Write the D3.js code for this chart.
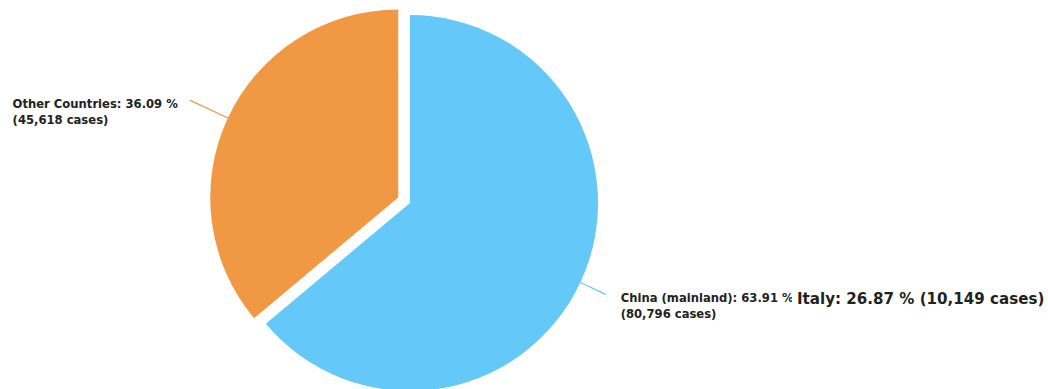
<!DOCTYPE html>
<html>
<head>
<meta charset="utf-8">
<script src="https://cdn.jsdelivr.net/npm/d3@7"></script>
<style>
  body { margin: 0; background: #fff; }
  svg { display: block; }
  .oznaka { font-family: "DejaVu Sans", sans-serif; font-weight: bold; font-size: 11.6px; fill: #222; }
  .naslov { font-family: "DejaVu Sans", sans-serif; font-weight: bold; font-size: 15.1px; fill: #222; }
</style>
</head>
<body>
<div id="pie"></div>
<script>
// podaci
const zemlje = ["China (mainland)", "Other Countries"];
const postoci = [63.91, 36.09];
const slucajevi = [80796, 45618];
const boje = ["#64c8f9", "#f09843"];
const istaknuto = ["Italy", 26.87, 10149];

const sirina = 1048;
const visina = 389;
const centar = { x: 410, y: 203 };
const radijus = 188;
const odmak = [0, 13];         // izvlacenje kriske
const crtaDuljina = [28, 42];  // duljina linije do oznake

const okvir = d3.select("#pie").append("svg")
    .attr("width", sirina)
    .attr("height", visina);

const granice = okvir.append("g")
    .attr("transform", `translate(${centar.x},${centar.y})`);

const podaci = zemlje.map((z, i) => ({ zemlja: z, postotak: postoci[i], broj: slucajevi[i], i }));

const pie = d3.pie().sort(null).value(d => d.postotak);
const luk = d3.arc().innerRadius(0).outerRadius(radijus);
const kriske = pie(podaci);
const fmt = d3.format(",");

const smjer = a => [Math.sin(a), -Math.cos(a)];

const kriska = granice.selectAll(".kriska")
    .data(kriske)
    .join("g")
    .attr("class", "kriska")
    .attr("transform", d => {
        const [sx, sy] = smjer((d.startAngle + d.endAngle) / 2);
        return `translate(${sx * odmak[d.data.i]},${sy * odmak[d.data.i]})`;
    });

kriska.append("path")
    .attr("d", luk)
    .attr("fill", d => boje[d.data.i]);

// linije i oznake
kriska.each(function (d) {
    const g = d3.select(this);
    const [sx, sy] = smjer((d.startAngle + d.endAngle) / 2);
    const r2 = radijus + crtaDuljina[d.data.i];
    const x2 = sx * r2, y2 = sy * r2;
    g.append("line")
        .attr("x1", sx * radijus).attr("y1", sy * radijus)
        .attr("x2", x2).attr("y2", y2)
        .attr("stroke", boje[d.data.i])
        .attr("stroke-width", 1.2);

    const desno = sx > 0;
    const t = g.append("text")
        .attr("class", "oznaka")
        .attr("y", y2 + 8);
    const l1 = t.append("tspan").text(`${d.data.zemlja}: ${d.data.postotak.toFixed(2)} %`);
    const l2 = t.append("tspan").attr("dy", 16).text(`(${fmt(d.data.broj)} cases)`);
    const w = l1.node().getComputedTextLength();
    const x0 = desno ? x2 + 15 : x2 - 12 - w;
    l1.attr("x", x0);
    l2.attr("x", x0);
});

// istaknuti tekst (Italija)
const kineski = kriske[0];
const [kx, ky] = smjer((kineski.startAngle + kineski.endAngle) / 2);
const iy = ky * (radijus + crtaDuljina[0]) + 10;
const naslov = granice.append("g");
const nt = naslov.append("text")
    .attr("class", "naslov")
    .attr("x", 387)
    .attr("y", iy)
    .text(`${istaknuto[0]}: ${istaknuto[1].toFixed(2)} % (${fmt(istaknuto[2])} cases)`);
const bb = nt.node().getBBox();
naslov.insert("rect", "text")
    .attr("x", bb.x - 5)
    .attr("y", bb.y - 2)
    .attr("width", bb.width + 8)
    .attr("height", bb.height + 4)
    .attr("fill", "#fff");
</script>
</body>
</html>
